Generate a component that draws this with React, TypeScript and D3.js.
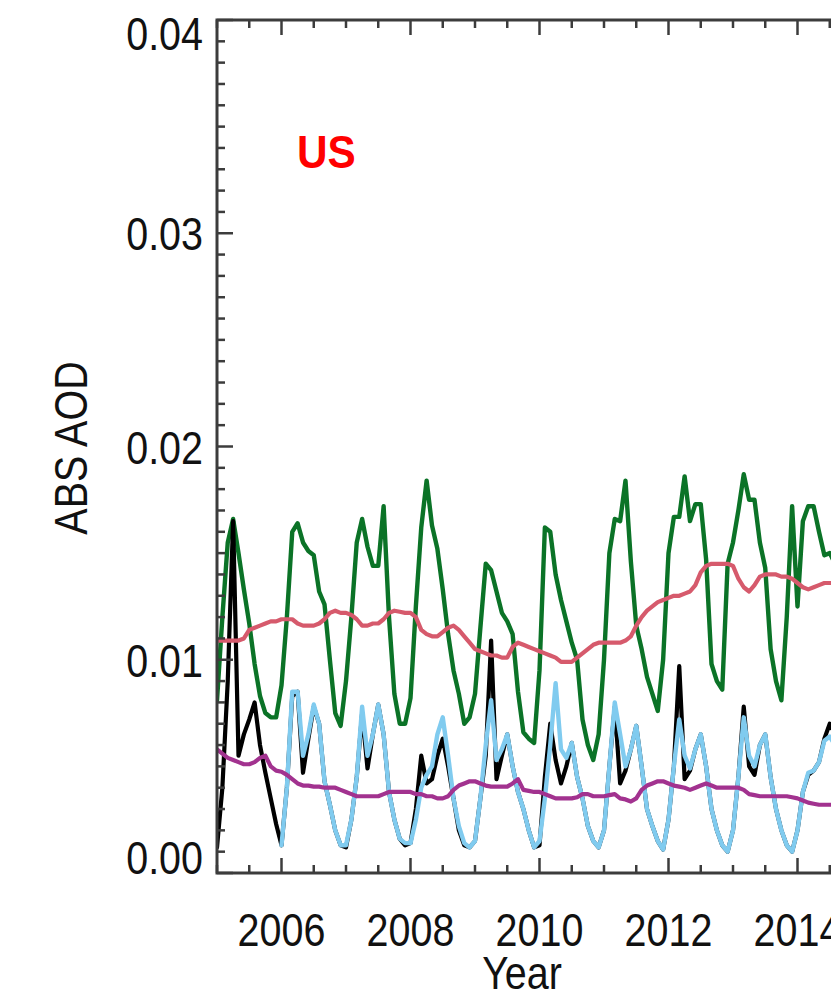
import React from 'react';
import * as d3 from 'd3';

// Monthly series, first value = January of the start year
const greenStart = 2005;
const green = [
  0.0081, 0.0120, 0.0155, 0.0166, 0.0150, 0.0133, 0.0117, 0.0098, 0.0083, 0.0075, 0.0073, 0.0073,
  0.0088, 0.0120, 0.0160, 0.0164, 0.0155, 0.0151, 0.0149, 0.0132, 0.0126, 0.0100, 0.0075, 0.0069,
  0.0090, 0.0120, 0.0155, 0.0166, 0.0153, 0.0144, 0.0144, 0.0172, 0.0120, 0.0084, 0.0070, 0.0070,
  0.0082, 0.0125, 0.0162, 0.0184, 0.0163, 0.0152, 0.0133, 0.0112, 0.0095, 0.0084, 0.0070, 0.0073,
  0.0084, 0.0115, 0.0145, 0.0142, 0.0132, 0.0122, 0.0118, 0.0112, 0.0085, 0.0066, 0.0063, 0.0061,
  0.0095, 0.0162, 0.0160, 0.0140, 0.0128, 0.0118, 0.0108, 0.0100, 0.0072, 0.0060, 0.0053, 0.0065,
  0.0100, 0.0150, 0.0166, 0.0165, 0.0184, 0.0146, 0.0116, 0.0105, 0.0092, 0.0084, 0.0076, 0.0100,
  0.0150, 0.0167, 0.0167, 0.0186, 0.0165, 0.0173, 0.0173, 0.0147, 0.0098, 0.0090, 0.0086, 0.0145,
  0.0155, 0.0170, 0.0187, 0.0175, 0.0175, 0.0155, 0.0143, 0.0105, 0.0090, 0.0081, 0.0120, 0.0172,
  0.0125, 0.0165, 0.0172, 0.0172, 0.0160, 0.0149, 0.0150, 0.0145,
];

const pinkStart = 2005;
const pink = [
  0.0109, 0.0109, 0.0109, 0.0109, 0.0109, 0.0110, 0.0114, 0.0115, 0.0116, 0.0117, 0.0118, 0.0118,
  0.0119, 0.0119, 0.0119, 0.0117, 0.0116, 0.0116, 0.0116, 0.0117, 0.0119, 0.0122, 0.0123, 0.0122,
  0.0122, 0.0121, 0.0119, 0.0116, 0.0116, 0.0117, 0.0117, 0.0119, 0.0122, 0.0123, 0.01225, 0.0122,
  0.0122, 0.0120, 0.0114, 0.0112, 0.0111, 0.0111, 0.0113, 0.0115, 0.0116, 0.0114, 0.0111, 0.0108,
  0.0105, 0.0104, 0.0103, 0.0102, 0.0102, 0.0101, 0.0101, 0.0106, 0.0108, 0.0107, 0.0106, 0.0105,
  0.0104, 0.0103, 0.0102, 0.0101, 0.0099, 0.0099, 0.0099, 0.0101, 0.0103, 0.0105, 0.0107, 0.0108,
  0.0108, 0.0108, 0.0108, 0.0108, 0.0109, 0.0111, 0.0116, 0.0120, 0.0123, 0.0125, 0.0127, 0.0128,
  0.0129, 0.0130, 0.0130, 0.0131, 0.0132, 0.0135, 0.0141, 0.0144, 0.0145, 0.0145, 0.0145, 0.0145,
  0.0144, 0.0138, 0.0134, 0.0132, 0.0135, 0.0139, 0.0140, 0.0140, 0.0140, 0.0139, 0.0139, 0.0138,
  0.0136, 0.0134, 0.0133, 0.0134, 0.0135, 0.0136, 0.0136, 0.0136,
];

const blackStart = 2005;
const black = [
  0.0012, 0.0040, 0.0090, 0.0165, 0.0055, 0.0065, 0.0072, 0.0080, 0.0060, 0.0047, 0.0035, 0.0023,
  0.0013, 0.0040, 0.0083, 0.0085, 0.0047, 0.0063, 0.0078, 0.0070, 0.0043, 0.0032, 0.0020, 0.0013,
  0.0012, 0.0025, 0.0045, 0.0075, 0.0049, 0.0065, 0.0079, 0.0065, 0.0038, 0.0025, 0.0016, 0.0013,
  0.0014, 0.0030, 0.0055, 0.0042, 0.0044, 0.0055, 0.0063, 0.0050, 0.0035, 0.0020, 0.0013, 0.0012,
  0.0015, 0.0035, 0.0055, 0.0109, 0.0044, 0.0055, 0.0065, 0.0050, 0.0038, 0.0030, 0.0020, 0.0012,
  0.0013, 0.0045, 0.0070, 0.0053, 0.0042, 0.0050, 0.0061, 0.0045, 0.0035, 0.0022, 0.0015, 0.0012,
  0.0020, 0.0050, 0.0078, 0.0042, 0.0048, 0.0058, 0.0069, 0.0050, 0.0030, 0.0022, 0.0015, 0.0011,
  0.0025, 0.0050, 0.0097, 0.0044, 0.0048, 0.0058, 0.0065, 0.0050, 0.0030, 0.0020, 0.0013, 0.0010,
  0.0020, 0.0045, 0.0078, 0.0050, 0.0046, 0.0060, 0.0065, 0.0045, 0.0030, 0.0020, 0.0013, 0.0010,
  0.0020, 0.0038, 0.0046, 0.0048, 0.0052, 0.0063, 0.0070, 0.0065,
];

const blueStart = 2006;
const blue = [
  0.0013, 0.0040, 0.0085, 0.0085, 0.0055, 0.0065, 0.0079, 0.0070, 0.0043, 0.0032, 0.0020, 0.0013,
  0.0013, 0.0025, 0.0045, 0.0078, 0.0055, 0.0065, 0.0079, 0.0065, 0.0038, 0.0025, 0.0016, 0.0014,
  0.0014, 0.0025, 0.0040, 0.0046, 0.0050, 0.0065, 0.0073, 0.0055, 0.0035, 0.0022, 0.0014, 0.0012,
  0.0015, 0.0035, 0.0060, 0.0081, 0.0053, 0.0058, 0.0065, 0.0050, 0.0038, 0.0030, 0.0020, 0.0012,
  0.0015, 0.0035, 0.0060, 0.0089, 0.0058, 0.0054, 0.0061, 0.0045, 0.0035, 0.0022, 0.0015, 0.0012,
  0.0020, 0.0050, 0.0080, 0.0065, 0.0050, 0.0058, 0.0069, 0.0050, 0.0030, 0.0022, 0.0015, 0.0011,
  0.0025, 0.0050, 0.0072, 0.0055, 0.0049, 0.0058, 0.0065, 0.0050, 0.0030, 0.0020, 0.0013, 0.0010,
  0.0020, 0.0045, 0.0073, 0.0055, 0.0050, 0.0060, 0.0065, 0.0045, 0.0030, 0.0020, 0.0013, 0.0010,
  0.0020, 0.0038, 0.0047, 0.0048, 0.0052, 0.0062, 0.0064, 0.0060,
];

const magentaStart = 2005;
const magenta = [
  0.0058, 0.0056, 0.0054, 0.0053, 0.0052, 0.0051, 0.0051, 0.0052, 0.0054, 0.0055, 0.0050, 0.0048,
  0.00475, 0.0046, 0.0044, 0.0042, 0.0041, 0.0041, 0.00405, 0.00405, 0.0040, 0.0040, 0.0040, 0.0039,
  0.0038, 0.0037, 0.0036, 0.0036, 0.0036, 0.0036, 0.0036, 0.0037, 0.0038, 0.0038, 0.0038, 0.0038,
  0.0038, 0.0037, 0.0037, 0.0036, 0.0036, 0.0035, 0.0035, 0.0036, 0.0039, 0.0041, 0.0042, 0.0043,
  0.0043, 0.0042, 0.0041, 0.00405, 0.00405, 0.00405, 0.00405, 0.0042, 0.0044, 0.0039, 0.00385, 0.0038,
  0.0038, 0.0037, 0.0036, 0.0035, 0.0035, 0.0035, 0.0035, 0.00355, 0.0037, 0.0037, 0.0036, 0.0036,
  0.0036, 0.00365, 0.0037, 0.0035, 0.00345, 0.00335, 0.0035, 0.0039, 0.0041, 0.0042, 0.0043, 0.0043,
  0.0042, 0.0041, 0.00405, 0.0040, 0.0039, 0.0040, 0.0041, 0.0042, 0.0041, 0.0040, 0.0040, 0.0040,
  0.0040, 0.0040, 0.0039, 0.0037, 0.00365, 0.0036, 0.0036, 0.0036, 0.0036, 0.0036, 0.0036, 0.00355,
  0.0035, 0.0034, 0.0033, 0.00325, 0.0032, 0.0032, 0.0032, 0.0032,
];

const yTicks = [0, 0.01, 0.02, 0.03, 0.04];
const yTickLabels = ['0.00', '0.01', '0.02', '0.03', '0.04'];
const xTicks = [2006, 2008, 2010, 2012, 2014];
const xTickLabels = ['2006', '2008', '2010', '2012', '2014'];

const FONT = '"Liberation Sans", Arial, Helvetica, sans-serif';

export default function App() {
  const W = 831;
  const H = 996;
  const left = 217, right = 862, top = 20, bottom = 873;
  const x = d3.scaleLinear().domain([2005, 2015]).range([left, right]);
  const y = d3.scaleLinear().domain([0, 0.04]).range([bottom, top]);

  const mkLine = (arr: number[], start: number) =>
    d3.line<number>().x((_, i) => x(start + i / 12)).y((d) => y(d))(arr) || '';

  const xMinor = d3.range(2005, 2015.01, 0.5);
  const yMinor = d3.range(0, 0.0401, 0.001);
  const axisColor = '#3c3c3c';

  const fs = 47;
  const sx = 0.84;

  return (
    <svg
      width={W}
      height={H}
      style={{ position: 'absolute', left: 0, top: 0, background: '#fff' }}
    >
      <rect x={0} y={0} width={W} height={H} fill="#fff" />
      <defs>
        <clipPath id="plotclip">
          <rect x={left} y={top} width={right - left} height={bottom - top} />
        </clipPath>
      </defs>

      <g clipPath="url(#plotclip)" fill="none" strokeLinejoin="round" strokeLinecap="round">
        <path d={mkLine(green, greenStart)} stroke="#0b7327" strokeWidth={4.4} />
        <path d={mkLine(black, blackStart)} stroke="#000000" strokeWidth={4.2} />
        <path d={mkLine(blue, blueStart)} stroke="#80cbef" strokeWidth={4.4} />
        <path d={mkLine(pink, pinkStart)} stroke="#d65a6c" strokeWidth={4.2} />
        <path d={mkLine(magenta, magentaStart)} stroke="#a2328f" strokeWidth={4.2} />
      </g>

      {/* ticks */}
      <g stroke={axisColor} strokeWidth={2.5}>
        {xMinor.map((t) => {
          const major = Math.abs(t % 2) < 1e-6;
          const len = major ? 15 : 8;
          return (
            <g key={'xt' + t}>
              <line x1={x(t)} x2={x(t)} y1={bottom} y2={bottom - len} />
              <line x1={x(t)} x2={x(t)} y1={top} y2={top + len} />
            </g>
          );
        })}
        {yMinor.map((v, i) => {
          const major = i % 10 === 0;
          const len = major ? 16 : 8;
          return <line key={'yt' + i} x1={left} x2={left + len} y1={y(v)} y2={y(v)} />;
        })}
      </g>

      {/* frame */}
      <rect
        x={left}
        y={top}
        width={right - left}
        height={bottom - top}
        fill="none"
        stroke={axisColor}
        strokeWidth={3}
      />

      {/* y tick labels */}
      {yTicks.map((v, i) => {
        const base = Math.min(Math.max(y(v) + 17, 50), 874);
        return (
          <text
            key={'yl' + i}
            transform={`translate(203,${base}) scale(${sx},1)`}
            textAnchor="end"
            fontFamily={FONT}
            fontSize={fs}
            fill="#111"
          >
            {yTickLabels[i]}
          </text>
        );
      })}

      {/* x tick labels */}
      {xTicks.map((t, i) => (
        <text
          key={'xl' + i}
          transform={`translate(${x(t)},946) scale(${sx},1)`}
          textAnchor="middle"
          fontFamily={FONT}
          fontSize={fs}
          fill="#111"
        >
          {xTickLabels[i]}
        </text>
      ))}

      {/* axis titles */}
      <text
        transform={`translate(522,989) scale(${sx},1)`}
        textAnchor="middle"
        fontFamily={FONT}
        fontSize={fs}
        fill="#111"
      >
        Year
      </text>
      <text
        transform={`translate(87,448) rotate(-90) scale(${sx},1)`}
        textAnchor="middle"
        fontFamily={FONT}
        fontSize={fs}
        fill="#111"
      >
        ABS AOD
      </text>

      <text
        transform={`translate(297,168) scale(0.9,1)`}
        fontFamily={FONT}
        fontSize={fs}
        fontWeight="bold"
        fill="#ff0000"
      >
        US
      </text>
    </svg>
  );
}
